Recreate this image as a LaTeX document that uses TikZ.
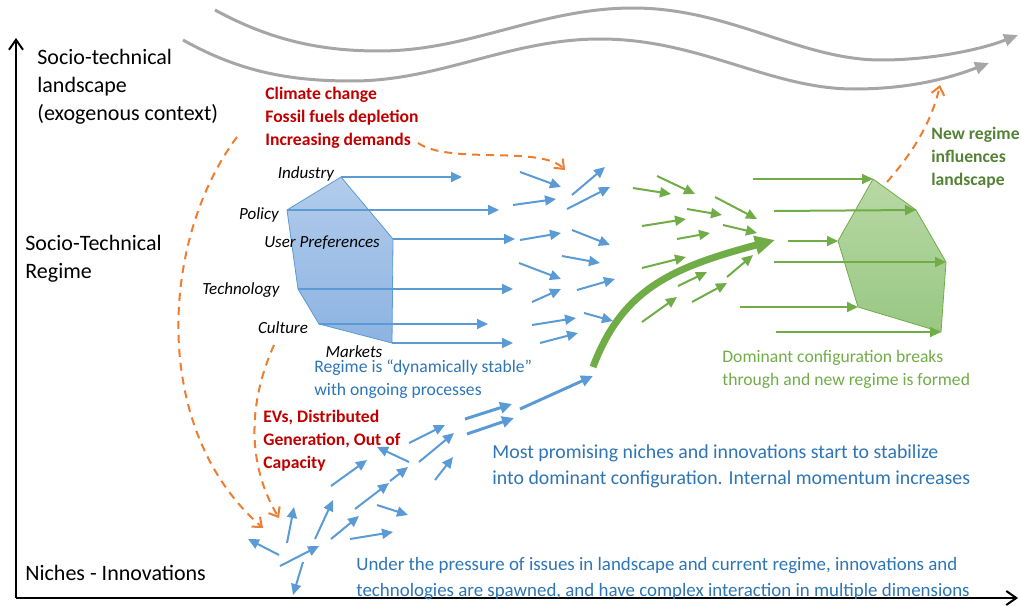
\documentclass[tikz,border=0pt]{standalone}
\usepackage{fontspec}
\setmainfont{Carlito}
\usepackage{tikz}
\usetikzlibrary{arrows.meta, positioning, calc}
\definecolor{regblue}{HTML}{5B9BD5}
\definecolor{textblue}{HTML}{2E75B6}
\definecolor{nichegreen}{HTML}{70AD47}
\definecolor{darkgreen}{HTML}{548235}
\definecolor{pressred}{HTML}{C00000}
\definecolor{dashorange}{HTML}{ED7D31}
\definecolor{wavegray}{HTML}{A6A6A6}
\definecolor{bluetop}{HTML}{B3CCEB}
\definecolor{bluebottom}{HTML}{8CB3E2}
\definecolor{greentop}{HTML}{B8D8A5}
\definecolor{greenbottom}{HTML}{99C883}
\tikzstyle{axis} = [line width=1pt, -{Straight Barb[length=5pt,width=7pt]}]
\tikzstyle{wave} = [wavegray, line width=1.5pt, -{Triangle[length=7pt,width=6pt]}]
\tikzstyle{bluearrow} = [regblue, line width=1pt, -{Triangle[length=5.5pt,width=5pt]}]
\tikzstyle{thickblue} = [regblue, line width=1.5pt, -{Triangle[length=6pt,width=5.5pt]}]
\tikzstyle{greenarrow} = [nichegreen, line width=1pt, -{Triangle[length=5.5pt,width=5pt]}]
\tikzstyle{momentum} = [nichegreen, line width=3.5pt, -{Triangle[length=10pt,width=9pt]}]
\tikzstyle{influence} = [dashorange, line width=1pt, dash pattern=on 4pt off 3pt, -{Straight Barb[length=4pt,width=6.5pt]}]
\tikzstyle{level} = [anchor=west, inner sep=0pt, align=left, font=\fontsize{11}{14}\selectfont]
\tikzstyle{pressure} = [anchor=west, inner sep=0pt, align=left, pressred, font=\bfseries\fontsize{8.8}{11.5}\selectfont]
\tikzstyle{dimension} = [inner sep=0pt, font=\itshape\fontsize{8.5}{10}\selectfont]
\tikzstyle{note} = [anchor=west, inner sep=0pt, align=left, font=\fontsize{8.8}{11.5}\selectfont]
\tikzstyle{bignote} = [anchor=west, inner sep=0pt, align=left, textblue, font=\fontsize{9.9}{13}\selectfont]

\begin{document}
\begin{tikzpicture}[x=0.5pt,y=-0.5pt]
    \useasboundingbox (0,0) rectangle (1021,605);

    \coordinate (origin) at (16,598);
    \coordinate (ytop) at (16,38);
    \coordinate (xend) at (1018,598);
    \draw [axis] (origin) -- (ytop);
    \draw [axis] (origin) -- (xend);

    \node (landscape) [level] at (37,87) {Socio-technical\\landscape\\(exogenous context)};
    \node (regime) [level] at (25,259) {Socio-Technical\\Regime};
    \node (niches) [level] at (25,573) {Niches - Innovations};

    \draw [wave] (215,10) .. controls (270,40) and (320,51) .. (379,51) .. controls (470,51) and (540,8) .. (633,8) .. controls (730,8) and (800,60) .. (881,60) .. controls (930,60) and (980,50) .. (1018,35);
    \draw [wave] (183,40) .. controls (240,72) and (290,81) .. (352,81) .. controls (440,81) and (510,39) .. (600,39) .. controls (700,39) and (770,89) .. (854,89) .. controls (910,89) and (950,78) .. (989,63);

    \node (pressures) [pressure] at (265,118) {Climate change\\Fossil fuels depletion\\Increasing demands};

    \coordinate (industry) at (341,177);
    \coordinate (userpref) at (393,239);
    \coordinate (markets) at (392,343);
    \coordinate (culture) at (319,324);
    \coordinate (technology) at (298,289);
    \coordinate (policy) at (287,210);
    \draw [regblue, top color=bluetop, bottom color=bluebottom] (industry) -- (userpref) -- (markets) -- (culture) -- (technology) -- (policy) -- cycle;

    \node (industrylabel) [dimension] at (306,174) {Industry};
    \node (policylabel) [dimension] at (259,215) {Policy};
    \node (userpreflabel) [dimension] at (322,243) {User Preferences};
    \node (technologylabel) [dimension] at (241,290) {Technology};
    \node (culturelabel) [dimension] at (283,328) {Culture};
    \node (marketslabel) [dimension] at (354,352) {Markets};

    \draw [bluearrow] (industry) -- ++(121,0);
    \draw [bluearrow] (policy) -- ++(212,0);
    \draw [bluearrow] (userpref) -- ++(122,0);
    \draw [bluearrow] (technology) -- ++(215,0);
    \draw [bluearrow] (culture) -- ++(169,0);
    \draw [bluearrow] (markets) -- ++(121,0);

    \draw [bluearrow] (520,172) -- (561,187);
    \draw [bluearrow] (513,205) -- (556,199);
    \draw [bluearrow] (572,195) -- (605,167);
    \draw [bluearrow] (567,209) -- (610,187);
    \draw [bluearrow] (520,240) -- (561,233);
    \draw [bluearrow] (572,230) -- (610,245);
    \draw [bluearrow] (562,256) -- (600,263);
    \draw [bluearrow] (519,263) -- (561,279);
    \draw [bluearrow] (532,302) -- (561,289);
    \draw [bluearrow] (577,290) -- (615,279);
    \draw [bluearrow] (532,325) -- (576,318);
    \draw [bluearrow] (540,343) -- (578,333);
    \draw [bluearrow] (584,313) -- (613,321);

    \node (stable) [note, textblue] at (314,379) {Regime is \textquotedblleft dynamically stable\textquotedblright\\with ongoing processes};

    \draw [bluearrow] (279,555) -- (248,539);
    \draw [bluearrow] (287,543) -- (294,507);
    \draw [bluearrow] (280,566) -- (319,546);
    \draw [bluearrow] (303,562) -- (293,595);
    \draw [bluearrow] (315,539) -- (333,500);
    \draw [bluearrow] (331,539) -- (359,516);
    \draw [bluearrow] (350,539) -- (393,532);
    \draw [bluearrow] (377,505) -- (408,515);
    \draw [bluearrow] (355,509) -- (389,483);
    \draw [bluearrow] (390,481) -- (408,467);
    \draw [bluearrow] (331,486) -- (367,460);
    \draw [bluearrow] (409,462) -- (377,447);
    \draw [bluearrow] (409,443) -- (445,425);
    \draw [bluearrow] (419,462) -- (454,433);
    \draw [bluearrow] (435,480) -- (453,457);
    \draw [thickblue] (465,419) -- (512,404);
    \draw [thickblue] (467,434) -- (514,418);
    \draw [thickblue] (520,409) -- (593,376);

    \node (evs) [pressure] at (263,441) {EVs, Distributed\\Generation, Out of\\Capacity};
    \node (promising) [bignote] at (492,466) {Most promising niches and innovations start to stabilize\\into dominant configuration. Internal momentum increases};
    \node (spawned) [bignote, font=\fontsize{9.45}{13}\selectfont] at (356,579) {Under the pressure of issues in landscape and current regime, innovations and\\technologies are spawned, and have complex interaction in multiple dimensions};

    \draw [momentum] (593,367) .. controls (622,290) and (670,268) .. (775,240);

    \draw [greenarrow] (633,188) -- (671,194);
    \draw [greenarrow] (657,176) -- (695,194);
    \draw [greenarrow] (687,209) -- (722,215);
    \draw [greenarrow] (715,197) -- (757,219);
    \draw [greenarrow] (642,226) -- (686,219);
    \draw [greenarrow] (677,239) -- (710,233);
    \draw [greenarrow] (723,225) -- (757,233);
    \draw [greenarrow] (642,268) -- (686,257);
    \draw [greenarrow] (678,286) -- (707,272);
    \draw [greenarrow] (727,277) -- (753,255);
    \draw [greenarrow] (692,302) -- (727,283);
    \draw [greenarrow] (642,322) -- (677,297);

    \coordinate (newtop) at (873,179);
    \coordinate (newupper) at (916,210);
    \coordinate (newright) at (946,262);
    \coordinate (newbottom) at (941,332);
    \coordinate (newlower) at (858,307);
    \coordinate (newleft) at (838,241);
    \draw [nichegreen, top color=greentop, bottom color=greenbottom] (newtop) -- (newupper) -- (newright) -- (newbottom) -- (newlower) -- (newleft) -- cycle;

    \draw [greenarrow] (753,179) -- (newtop);
    \draw [greenarrow] (774,211) -- (newupper);
    \draw [greenarrow] (788,241) -- (newleft);
    \draw [greenarrow] (774,262) -- (newright);
    \draw [greenarrow] (740,307) -- (newlower);
    \draw [greenarrow] (776,332) -- (newbottom);

    \node (dominant) [note, nichegreen] at (722,369) {Dominant configuration breaks\\through and new regime is formed};
    \node (newregime) [pressure, darkgreen] at (931,158) {New regime\\influences\\landscape};

    \draw [influence] (418,143) .. controls (450,165) and (540,145) .. (565,170);
    \draw [influence] (237,137) .. controls (160,240) and (150,430) .. (263,528);
    \draw [influence] (274,345) .. controls (245,410) and (250,470) .. (279,518);
    \draw [influence] (887,182) .. controls (915,150) and (932,120) .. (940,85);
  \end{tikzpicture}
\end{document}
